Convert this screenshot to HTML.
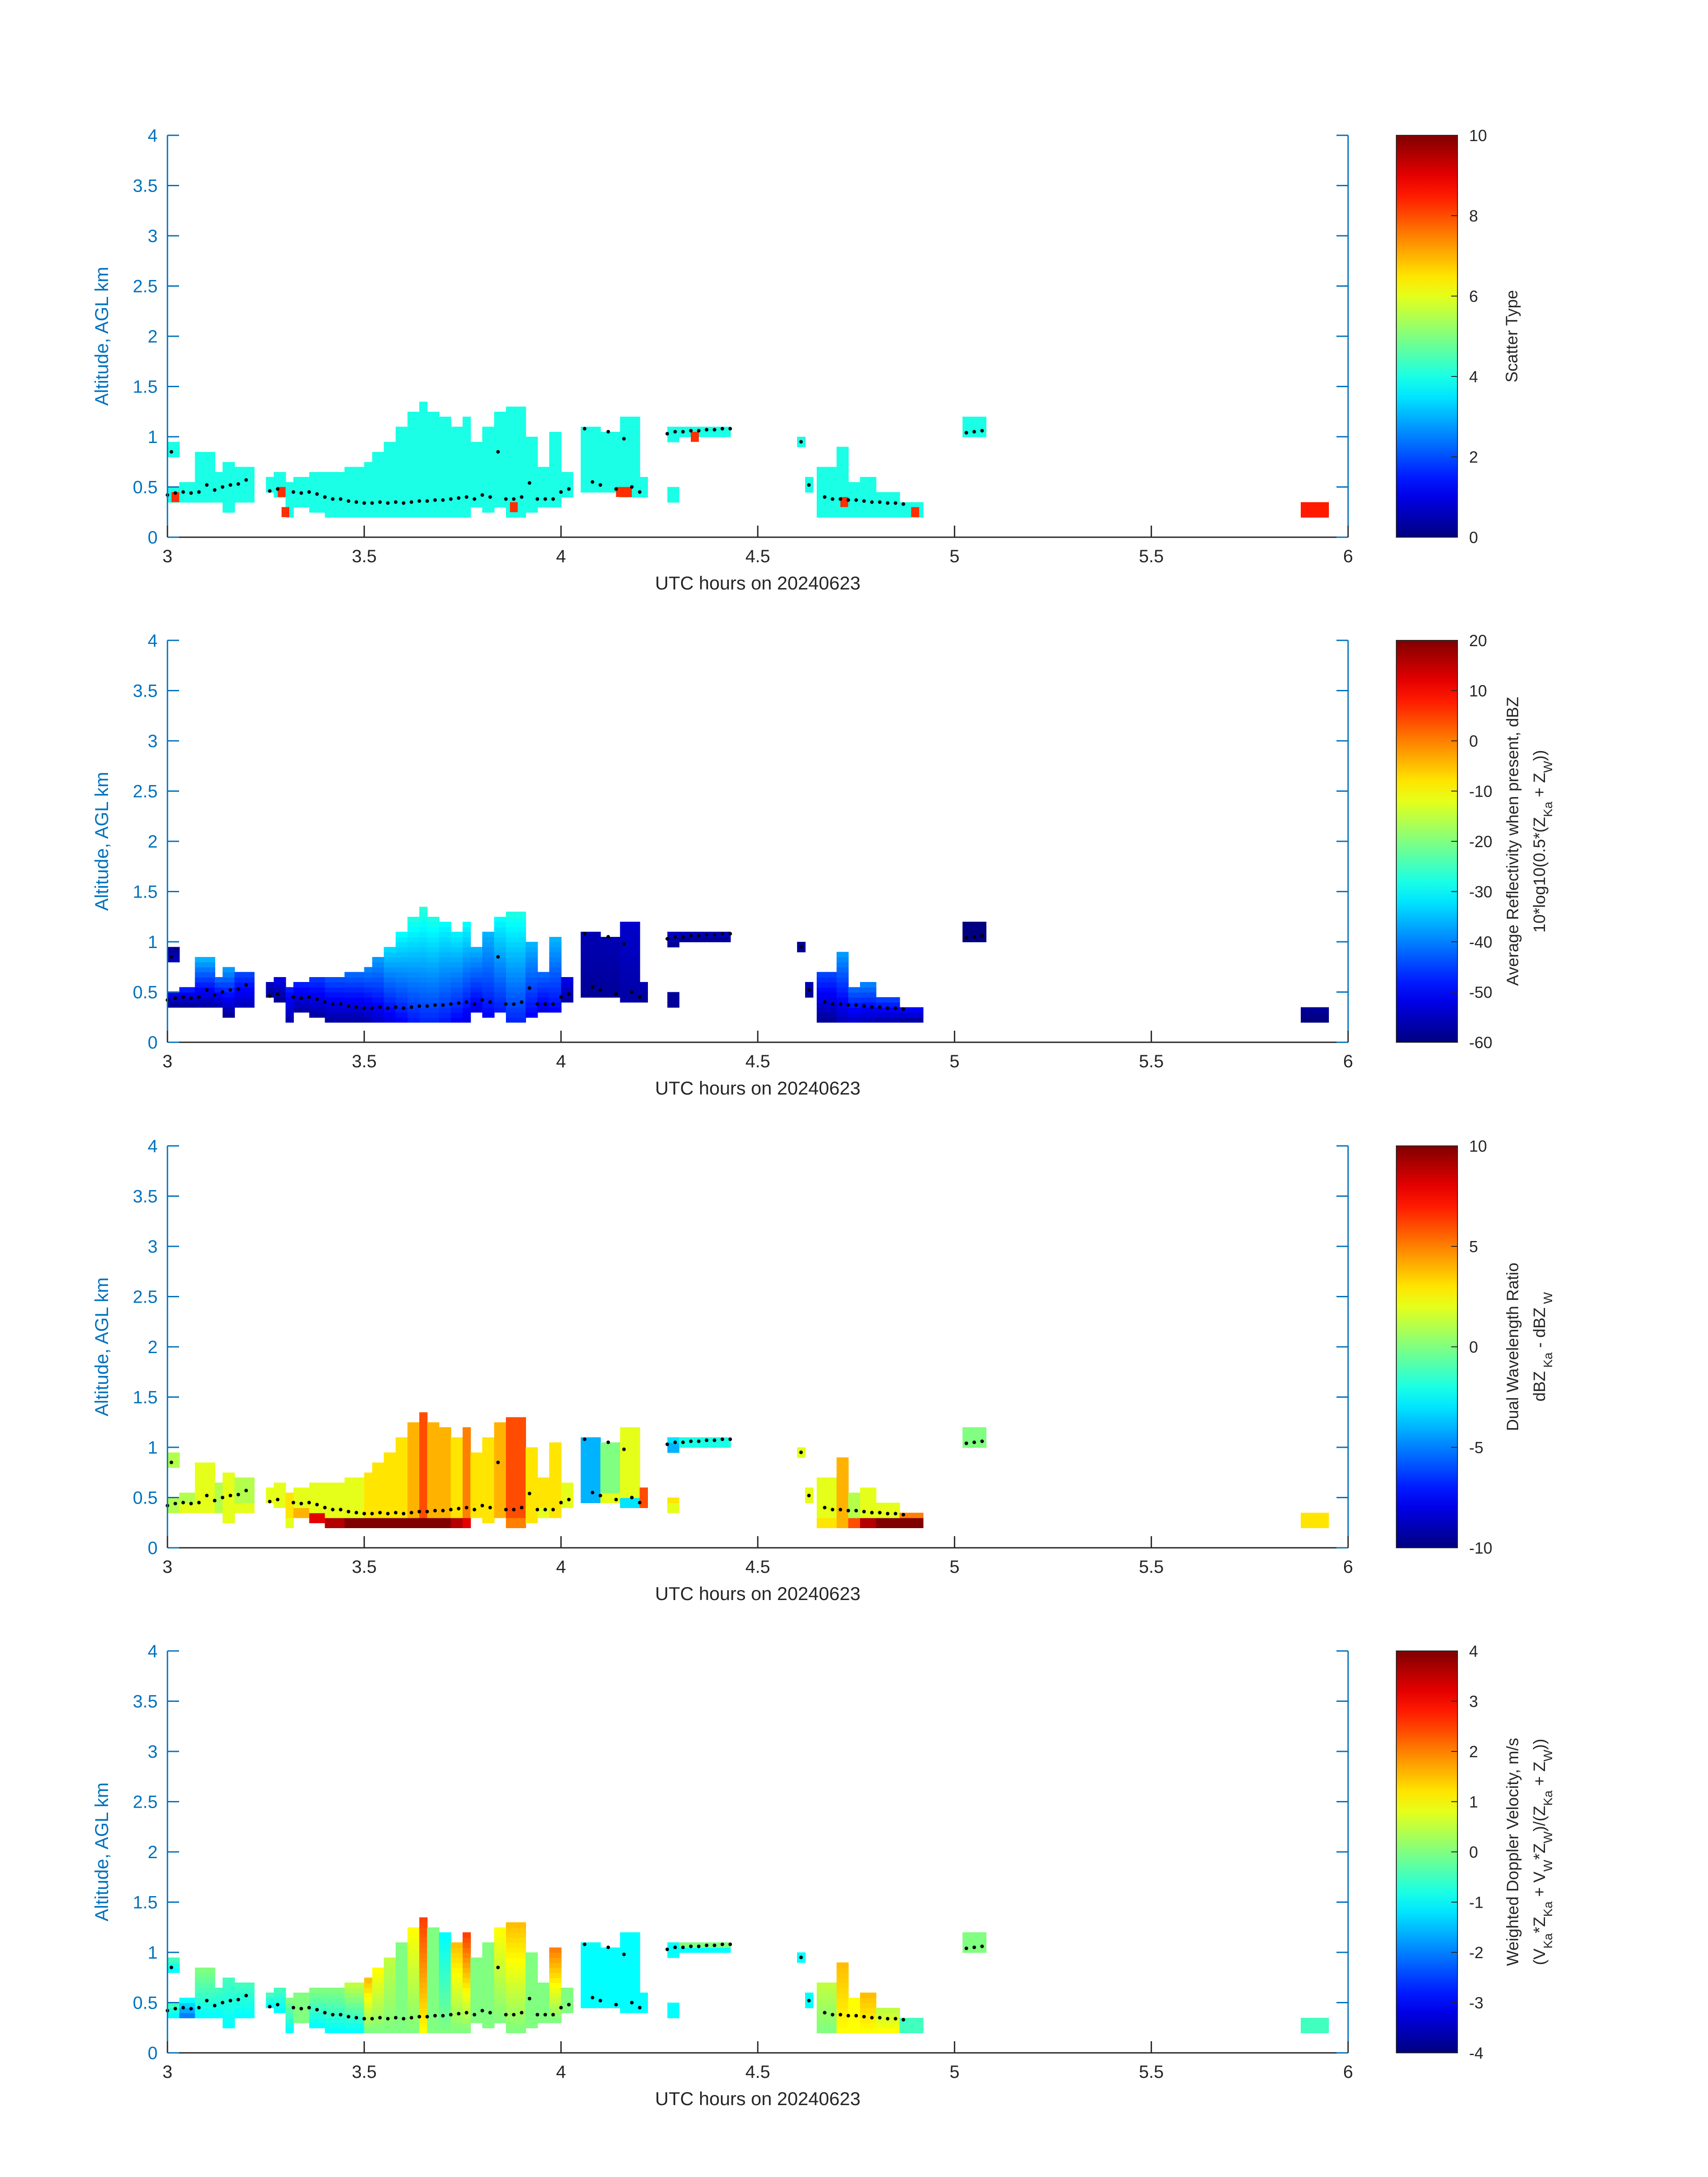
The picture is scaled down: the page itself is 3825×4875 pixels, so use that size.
<!DOCTYPE html>
<html><head><meta charset="utf-8">
<style>
html,body{margin:0;padding:0;background:#fff}
svg{display:block;font-family:"Liberation Sans","DejaVu Sans",sans-serif}
</style></head>
<body>
<svg id="fig" width="3825" height="4875" viewBox="0 0 3825 4875" xmlns="http://www.w3.org/2000/svg"></svg>
<script>
// ---- data (hours UTC, km AGL) ----
const segStart=[3.00,3.00,3.03,3.07,3.12,3.14,3.17,3.25,3.27,3.30,3.32,3.36,3.40,3.45,3.50,3.52,3.55,3.58,3.61,3.64,3.66,3.69,3.72,3.75,3.77,3.80,3.83,3.86,3.91,3.94,3.97,4.00,4.05,4.10,4.15,4.20,4.27,4.27,4.30,4.60,4.62,4.65,4.70,4.73,4.76,4.80,4.86,5.02,5.88];
const segEnd=[3.03,3.03,3.07,3.12,3.14,3.17,3.22,3.27,3.30,3.32,3.36,3.40,3.45,3.50,3.52,3.55,3.58,3.61,3.64,3.66,3.69,3.72,3.75,3.77,3.80,3.83,3.86,3.91,3.94,3.97,4.00,4.03,4.10,4.15,4.20,4.22,4.30,4.30,4.43,4.62,4.64,4.70,4.73,4.76,4.80,4.86,4.92,5.08,5.95];
const segBase=[0.80,0.35,0.35,0.35,0.35,0.25,0.35,0.45,0.40,0.20,0.30,0.25,0.20,0.20,0.20,0.20,0.20,0.20,0.20,0.20,0.20,0.20,0.20,0.20,0.30,0.25,0.30,0.20,0.25,0.30,0.30,0.40,0.45,0.45,0.40,0.40,0.35,0.95,1.00,0.90,0.45,0.20,0.20,0.20,0.20,0.20,0.20,1.00,0.20];
const segTop=[0.95,0.50,0.55,0.85,0.65,0.75,0.70,0.60,0.65,0.55,0.60,0.65,0.65,0.70,0.75,0.85,0.95,1.10,1.25,1.35,1.25,1.20,1.10,1.20,0.95,1.10,1.25,1.30,1.00,0.70,1.05,0.65,1.10,1.05,1.20,0.60,0.50,1.10,1.10,1.00,0.60,0.70,0.90,0.55,0.60,0.45,0.35,1.20,0.35];
const typeVals=[4,4,4,4,4,4,4,4,4,4,4,4,4,4,4,4,4,4,4,4,4,4,4,4,4,4,4,4,4,4,4,4,4,4,4,4,4,4,4,4,4,4,4,4,4,4,4,4,8.5];
const type8T=[3.02,3.29,3.30,3.88,4.15,4.17,4.34,4.72,4.90];
const type8A=[0.40,0.45,0.25,0.30,0.45,0.45,1.00,0.35,0.25];
const refBase=[-55,-58,-58,-57,-56,-58,-55,-58,-58,-56,-57,-57,-57,-57,-56,-54,-52,-50,-48,-47,-47,-48,-50,-52,-52,-50,-48,-47,-50,-52,-50,-57,-58,-58,-57,-58,-58,-58,-58,-58,-58,-58,-55,-54,-55,-56,-57,-60,-60];
const refTop=[-58,-52,-48,-36,-42,-38,-45,-55,-52,-48,-48,-46,-44,-42,-40,-38,-33,-30,-28,-27,-28,-30,-31,-30,-36,-36,-30,-28,-36,-42,-36,-52,-56,-56,-54,-56,-58,-55,-56,-58,-56,-45,-38,-42,-40,-45,-50,-60,-58];
const dwrBase=[1,1,2,2,1,2,2,2,2,2,4,8,9,10,10,10,10,10,10,10,10,10,9,8,3,3,4,5,3,2,3,2,-4,2,-3,6,2,-4,-2,2,2,3,4,6,9,10,10,0,3];
const dwrTop=[1,1,1,2,1,2,1,2,2,3,2,2,2,2,3,3,3,3,4,6,4,4,3,5,3,3,4,6,3,3,3,2,-4,0,2,6,3,-3,0,2,2,2,4,1,2,2,5,0,3];
const velBase=[-1,-1,-2,-1,-1,-1,-1,-1,-1,-1,0,-1,-1,-1,0,0,0,0,0,1,0,0,0,0,0,0,0,0,0,0,0,0,-1,-1,-1,-1,-1,-1,-1,-1,-1,0,1,1,1,1,-0.5,0,-0.5];
const velTop=[-0.5,-0.5,-1,0,-0.5,-0.5,-0.5,-0.5,-0.5,0,0,0,0,0.5,1.5,1,0.5,0,1,2.5,0,-1,1.5,2.5,0,0,1,1.5,0,0,2,0,-1,-1,-1,-1,-1,-1,0,-1,-1,0.5,1.5,1,1.5,0.5,-0.5,0,-0.5];
const dotT=[3.00,3.01,3.02,3.04,3.06,3.08,3.10,3.12,3.14,3.16,3.18,3.20,3.26,3.28,3.32,3.34,3.36,3.38,3.40,3.42,3.44,3.46,3.48,3.50,3.52,3.54,3.56,3.58,3.60,3.62,3.64,3.66,3.68,3.70,3.72,3.74,3.76,3.78,3.80,3.82,3.84,3.86,3.88,3.90,3.92,3.94,3.96,3.98,4.00,4.02,4.06,4.08,4.10,4.12,4.14,4.16,4.18,4.20,4.27,4.29,4.31,4.33,4.35,4.37,4.39,4.41,4.43,4.61,4.63,4.67,4.69,4.71,4.73,4.75,4.77,4.79,4.81,4.83,4.85,4.87,5.03,5.05,5.07];
const dotA=[0.42,0.85,0.44,0.45,0.44,0.45,0.52,0.47,0.50,0.52,0.53,0.57,0.46,0.48,0.45,0.44,0.45,0.43,0.40,0.38,0.38,0.36,0.35,0.34,0.34,0.35,0.34,0.35,0.34,0.35,0.36,0.36,0.37,0.37,0.38,0.39,0.40,0.38,0.42,0.40,0.85,0.38,0.38,0.40,0.54,0.38,0.38,0.38,0.45,0.48,1.08,0.55,0.52,1.05,0.48,0.98,0.50,0.45,1.03,1.05,1.05,1.06,1.06,1.07,1.07,1.08,1.08,0.95,0.52,0.40,0.38,0.38,0.37,0.37,0.36,0.35,0.35,0.34,0.34,0.33,1.04,1.05,1.06];
const yTicks=[0,0.5,1,1.5,2,2.5,3,3.5,4];
const xTicks=[3,3.5,4,4.5,5,5.5,6];
const cb1Ticks=[0,2,4,6,8,10], cb2Ticks=[20,10,0,-10,-20,-30,-40,-50,-60], cb3Ticks=[10,5,0,-5,-10], cb4Ticks=[4,3,2,1,0,-1,-2,-3,-4];

// ---- layout ----
const NS="http://www.w3.org/2000/svg", svg=document.getElementById('fig');
const L=375,R=3019,PH=900,tops=[303,1434,2566,3697],CBL=3141,CBR=3278,BLUE="#0072BD";
function el(tag,attrs,parent,text){const e=document.createElementNS(NS,tag);for(const k in attrs)e.setAttribute(k,attrs[k]);if(text!==undefined)e.textContent=text;(parent||svg).appendChild(e);return e;}
function jet(v){v=Math.max(0,Math.min(1,v));const r=Math.max(0,Math.min(1,1.5-Math.abs(4*v-3))),g=Math.max(0,Math.min(1,1.5-Math.abs(4*v-2))),b=Math.max(0,Math.min(1,1.5-Math.abs(4*v-1)));return `rgb(${Math.round(r*255)},${Math.round(g*255)},${Math.round(b*255)})`;}
const xs=t=>L+(t-3)/3*(R-L);

const panels=[
 {name:'scatter-type',min:0,max:10,ticks:cb1Ticks,lab:['Scatter Type']},
 {name:'reflectivity',min:-60,max:20,ticks:cb2Ticks,lab:['Average Reflectivity when present, dBZ','10*log10(0.5*(Z<tspan baseline-shift="sub" font-size="28">Ka</tspan> + Z<tspan baseline-shift="sub" font-size="28">W</tspan>))']},
 {name:'dual-wavelength-ratio',min:-10,max:10,ticks:cb3Ticks,lab:['Dual Wavelength Ratio','dBZ<tspan baseline-shift="sub" font-size="28"> Ka</tspan> - dBZ<tspan baseline-shift="sub" font-size="28"> W</tspan>']},
 {name:'doppler-velocity',min:-4,max:4,ticks:cb4Ticks,lab:['Weighted Doppler Velocity, m/s','(V<tspan baseline-shift="sub" font-size="28">Ka</tspan>*Z<tspan baseline-shift="sub" font-size="28">Ka</tspan> + V<tspan baseline-shift="sub" font-size="28">W</tspan>*Z<tspan baseline-shift="sub" font-size="28">W</tspan>)/(Z<tspan baseline-shift="sub" font-size="28">Ka</tspan> + Z<tspan baseline-shift="sub" font-size="28">W</tspan>))']}
];
const baseArr=[typeVals,refBase,dwrBase,velBase], topArr=[typeVals,refTop,dwrTop,velTop];

panels.forEach((p,pi)=>{
  const top=tops[pi], bot=top+PH, ys=a=>bot-a/4*PH;
  const g=el('g',{},svg);
  
  
  const cells=el('g',{'shape-rendering':'crispEdges'},g);
  
  
  const norm=v=>(v-p.min)/(p.max-p.min);
  for(let i=0;i<segStart.length;i++){
    const b=segBase[i],t=segTop[i];
    const n=Math.max(1,Math.round((t-b)/0.05));
    for(let k=0;k<n;k++){
      const a0=b+k*(t-b)/n,a1=b+(k+1)*(t-b)/n;
      let v;
      if(pi===2){ v = k<2 ? baseArr[pi][i] : topArr[pi][i]; }
      else { const f=n>1?k/(n-1):0; v=baseArr[pi][i]+(topArr[pi][i]-baseArr[pi][i])*f; }
      const r=el('rect',{x:xs(segStart[i]),y:ys(a1),width:xs(segEnd[i])-xs(segStart[i])+1,height:ys(a0)-ys(a1)+1,fill:jet(norm(v))},cells);
      
      
    }
  }
  if(pi===0){
    for(let i=0;i<type8T.length;i++){
      const r=el('rect',{x:xs(type8T[i]-0.01),y:ys(type8A[i]+0.05),width:xs(3.02)-xs(3),height:ys(0)-ys(0.1),fill:jet(norm(8.3))},cells);
      
      
    }
  }
  for(let i=0;i<dotT.length;i++){
    const c=el('circle',{cx:xs(dotT[i]),cy:ys(dotA[i]),r:4,fill:'#000'},g);
    
    
  }
  const ax=el('g',{},g);
  
  
  el('line',{x1:L,y1:top,x2:L,y2:bot,stroke:BLUE,'stroke-width':3},ax);
  el('line',{x1:R,y1:top,x2:R,y2:bot,stroke:BLUE,'stroke-width':3},ax);
  el('line',{x1:L,y1:bot,x2:R,y2:bot,stroke:'#262626','stroke-width':3},ax);
  yTicks.forEach(v=>{
    el('line',{x1:L,y1:ys(v),x2:L+26,y2:ys(v),stroke:BLUE,'stroke-width':3},ax);
    el('line',{x1:R,y1:ys(v),x2:R-26,y2:ys(v),stroke:BLUE,'stroke-width':3},ax);
    const t=el('text',{x:L-22,y:ys(v)+14,'font-size':40,fill:BLUE,'text-anchor':'end'},ax,String(v));
    
    
  });
  xTicks.forEach(v=>{
    el('line',{x1:xs(v),y1:bot,x2:xs(v),y2:bot-26,stroke:'#262626','stroke-width':3},ax);
    const t=el('text',{x:xs(v),y:bot+56,'font-size':40,fill:'#262626','text-anchor':'middle'},ax,String(v));
    
    
  });
  const xt=el('text',{x:(L+R)/2,y:bot+117,'font-size':42,fill:'#262626','text-anchor':'middle'},ax,'UTC hours on 20240623');
  
  
  const yt=el('text',{x:0,y:0,'font-size':42,fill:BLUE,'text-anchor':'middle',transform:`translate(242,${top+PH/2}) rotate(-90)`},ax,'Altitude, AGL km');
  
  
  const cb=el('g',{},g);
  
  
  const CL=CBL-14, CR=CBR-14;
  const gid='grad'+pi, defs=el('defs',{},cb), lg=el('linearGradient',{id:gid,x1:0,y1:1,x2:0,y2:0},defs);
  for(let s=0;s<=20;s++)el('stop',{offset:s/20,'stop-color':jet(s/20)},lg);
  el('rect',{x:CL,y:top,width:CR-CL,height:PH,fill:`url(#${gid})`,stroke:'#262626','stroke-width':2},cb);
  p.ticks.forEach(v=>{
    const yy=bot-norm(v)*PH;
    el('line',{x1:CR,y1:yy,x2:CR-14,y2:yy,stroke:'#262626','stroke-width':2},cb);
    const t=el('text',{x:CR+26,y:yy+13,'font-size':36,fill:'#262626'},cb,String(v));
    
    
  });
  const cx=p.lab.length===1?3398:3400;
  p.lab.forEach((s,li)=>{
    const t=el('text',{x:0,y:0,'font-size':37,fill:'#262626','text-anchor':'middle',transform:`translate(${cx+li*60},${top+PH/2}) rotate(-90)`},cb);
    t.innerHTML=s;
    
    
  });
});
</script>
</body></html>
